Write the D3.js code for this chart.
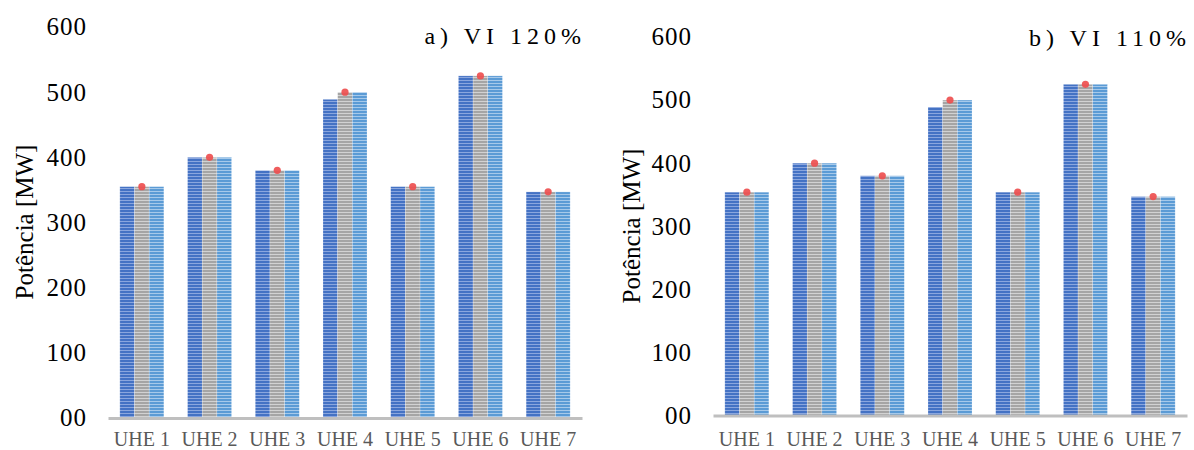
<!DOCTYPE html>
<html>
<head>
<meta charset="utf-8">
<script src="https://cdn.jsdelivr.net/npm/d3@7/dist/d3.min.js"></script>
<style>
  html, body { margin: 0; padding: 0; background: #fff; }
  svg { display: block; }
</style>
</head>
<body>
<svg id="chart" width="1194" height="450"></svg>
<script>
// Usinas hidrelétricas
const categories = ["UHE 1", "UHE 2", "UHE 3", "UHE 4", "UHE 5", "UHE 6", "UHE 7"];

// Painel a) VI 120%
const aSerie1 = [355, 400, 380, 489, 355, 525, 347];
const aSerie2 = [355, 400, 380, 500, 355, 525, 347];
const aSerie3 = [355, 400, 380, 500, 355, 525, 347];
const aRef    = [355, 400, 380, 500, 355, 525, 347];

// Painel b) VI 110%
const bSerie1 = [354, 400, 380, 489, 354, 525, 347];
const bSerie2 = [354, 400, 380, 500, 354, 525, 347];
const bSerie3 = [354, 400, 380, 500, 354, 525, 347];
const bRef    = [354, 400, 380, 500, 354, 525, 347];

const yTickValues = [0, 100, 200, 300, 400, 500, 600];
const yTickLabels = ["00", "100", "200", "300", "400", "500", "600"];

const svg = d3.select("#chart");
const defs = svg.append("defs");

// striped fills for the three bar series
const fills = [
  { id: "st1", base: "#4472c4", line: "#8aa6de" },
  { id: "st2", base: "#a5a5a5", line: "#d2d2d2" },
  { id: "st3", base: "#5b9bd5", line: "#a6c9ea" }
];
fills.forEach(f => {
  const p = defs.append("pattern")
    .attr("id", f.id)
    .attr("patternUnits", "userSpaceOnUse")
    .attr("width", 6).attr("height", 3);
  p.append("rect").attr("width", 6).attr("height", 3).attr("fill", f.base);
  p.append("rect").attr("y", 2).attr("width", 6).attr("height", 1).attr("fill", f.line);
});

const serif = "'Liberation Serif', 'Times New Roman', serif";

function drawPanel(cfg) {
  const g = svg.append("g");
  const x = d3.scaleBand().domain(categories)
    .range([cfg.x0, cfg.x1]).paddingInner(0.35).paddingOuter(0.175);
  const sub = d3.scaleBand().domain([0, 1, 2]).range([0, x.bandwidth()]);
  const y = d3.scaleLinear().domain([0, 600]).range([cfg.yBase, cfg.yTop]);

  const series = [cfg.s1, cfg.s2, cfg.s3];
  series.forEach((vals, si) => {
    g.append("g").selectAll("rect")
      .data(vals)
      .join("rect")
      .attr("x", (d, i) => x(categories[i]) + sub(si))
      .attr("y", d => y(d))
      .attr("width", sub.bandwidth())
      .attr("height", d => y(0) - y(d))
      .attr("fill", `url(#${fills[si].id})`)
      .attr("stroke", "#ffffff")
      .attr("stroke-opacity", 0.35)
      .attr("stroke-width", 0.6);
  });

  // base line
  const axis = d3.axisBottom(x).tickSize(0).tickFormat("");
  const ax = g.append("g").attr("transform", `translate(0,${y(0)})`).call(axis);
  ax.select(".domain").attr("stroke", "#bfbfbf").attr("stroke-width", 3);

  // category labels
  g.append("g").selectAll("text")
    .data(categories)
    .join("text")
    .attr("x", d => x(d) + x.bandwidth() / 2)
    .attr("y", 446)
    .attr("text-anchor", "middle")
    .attr("font-family", serif)
    .attr("font-size", 20)
    .attr("fill", "#595959")
    .text(d => d);

  // reference markers
  g.append("g").selectAll("circle")
    .data(cfg.ref)
    .join("circle")
    .attr("cx", (d, i) => x(categories[i]) + sub(1) + sub.bandwidth() / 2)
    .attr("cy", d => y(d))
    .attr("r", 3.6)
    .attr("fill", "#ee4f4f")
    .attr("opacity", 0.92);

  // y tick labels
  g.append("g").selectAll("text")
    .data(yTickValues)
    .join("text")
    .attr("x", cfg.tickRight)
    .attr("y", d => y(d) + 8.4)
    .attr("text-anchor", "end")
    .attr("font-family", serif)
    .attr("font-size", 25)
    .attr("letter-spacing", 1)
    .attr("fill", "#000")
    .text((d, i) => yTickLabels[i]);

  // y axis title
  g.append("text")
    .attr("transform", `translate(${cfg.titleX},${cfg.titleY}) rotate(-90)`)
    .attr("text-anchor", "middle")
    .attr("font-family", serif)
    .attr("font-size", 25)
    .attr("fill", "#000")
    .text("Potência [MW]");

  // panel title
  g.append("text")
    .attr("x", cfg.x1 + 4)
    .attr("y", cfg.headY)
    .attr("text-anchor", "end")
    .attr("font-family", serif)
    .attr("font-size", 24)
    .attr("letter-spacing", 5)
    .attr("fill", "#000")
    .text(cfg.head);
}

drawPanel({
  x0: 108, x1: 582, yBase: 418, yTop: 27,
  s1: aSerie1, s2: aSerie2, s3: aSerie3, ref: aRef,
  tickRight: 87, titleX: 33, titleY: 222,
  head: "a) VI 120%", headY: 44
});

drawPanel({
  x0: 713, x1: 1187, yBase: 415.5, yTop: 37,
  s1: bSerie1, s2: bSerie2, s3: bSerie3, ref: bRef,
  tickRight: 692, titleX: 640, titleY: 226,
  head: "b) VI 110%", headY: 46
});
</script>
</body>
</html>
